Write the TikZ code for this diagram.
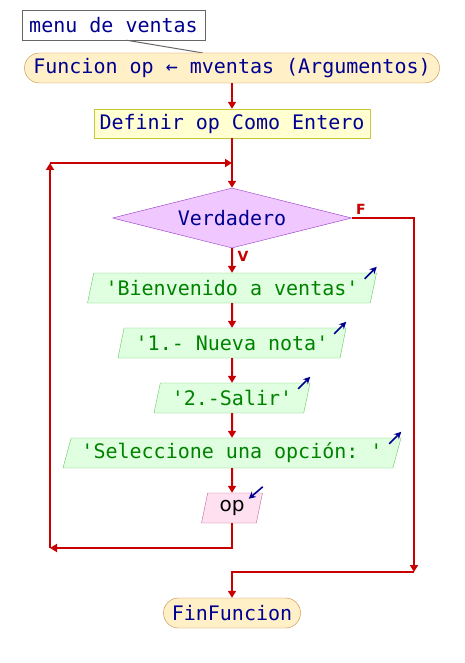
\documentclass[tikz,border=0pt]{standalone}
\usepackage{fontspec}
\setmonofont{DejaVu Sans Mono}
\setsansfont{DejaVu Sans}
\usepackage{tikz}
\usetikzlibrary{shapes.geometric,arrows.meta}
\definecolor{flowred}{HTML}{C80000}
\definecolor{txtblue}{HTML}{000090}
\definecolor{txtgreen}{HTML}{008200}
\definecolor{termfill}{HTML}{FFF0C8}
\definecolor{termline}{HTML}{C8883C}
\definecolor{deffill}{HTML}{FFFFD2}
\definecolor{defline}{HTML}{C8C83C}
\definecolor{condfill}{HTML}{F0C8FF}
\definecolor{condline}{HTML}{9632C8}
\definecolor{outfill}{HTML}{E0FFE0}
\definecolor{outline}{HTML}{64C864}
\definecolor{infill}{HTML}{FFE0F0}
\definecolor{inline}{HTML}{C06496}

\begin{document}
\begin{tikzpicture}[x=1pt,y=-1pt,
    font=\ttfamily\fontsize{20}{24}\selectfont,
    flow/.style={draw=flowred,line width=2pt,-{Triangle[width=8pt,length=7pt]}},
    term/.style={rectangle,rounded corners=15pt,draw=termline,fill=termfill,text=txtblue,minimum height=30pt,inner sep=0pt},
    defbox/.style={rectangle,draw=defline,fill=deffill,text=txtblue,minimum height=29pt,inner sep=0pt},
    cond/.style={diamond,draw=condline,fill=condfill,text=txtblue,aspect=4,inner sep=0pt,minimum width=239pt,minimum height=60pt},
    outbox/.style={trapezium,trapezium left angle=68,trapezium right angle=112,trapezium stretches body,draw=outline,fill=outfill,text=txtgreen,minimum height=30pt,inner xsep=2pt,inner ysep=0pt},
    inbox/.style={trapezium,trapezium left angle=68,trapezium right angle=112,trapezium stretches body,draw=inline,fill=infill,text=black,font=\sffamily\fontsize{20}{24}\selectfont,minimum height=30pt,inner xsep=2pt,inner ysep=0pt},
    ioarr/.style={draw=txtblue,line width=1.6pt,-{Stealth[length=7pt,width=7pt]}},
    branch/.style={text=flowred,font=\sffamily\bfseries\fontsize{14}{16}\selectfont}]
        \useasboundingbox (0,0) rectangle (464,663);

        % comment
        \node[draw=black!60,fill=white,text=txtblue,minimum width=183pt,minimum height=30pt,inner sep=0pt] (cmt) at (113.5,25) {menu de ventas};
        \coordinate (cmtend) at (203,53);
        \draw[black!60,line width=1pt] ([xshift=13pt]cmt.south) -- (cmtend);

        % header and definition
        \node[term,minimum width=415pt] (fnc) at (232,68) {Funcion op ← mventas (Argumentos)};
        \node[defbox,minimum width=276pt] (defn) at (232,123.5) {Definir op Como Entero};

        % loop condition
        \node[cond] (cond) at (232,218) {Verdadero};
        \node[branch] (vlab) at (243,256) {V};
        \node[branch] (flab) at (361,209) {F};

        % loop body
        \node[outbox,minimum width=289pt] (msg1) at (232,288) {'Bienvenido a ventas'};
        \node[outbox,minimum width=228pt] (msg2) at (232,343) {'1.- Nueva nota'};
        \node[outbox,minimum width=156pt] (msg3) at (232,398) {'2.-Salir'};
        \node[outbox,minimum width=338pt] (msg4) at (232,453) {'Seleccione una opción: '};
        \node[inbox,minimum width=61pt] (leer) at (232,508) {op};

        % end
        \node[term,minimum width=137pt] (fin) at (232,613) {FinFuncion};

        % loop and exit corners
        \coordinate (lpin) at (232,163);
        \coordinate (lptop) at (50,163);
        \coordinate (lpbot) at (50,548);
        \coordinate (fdown) at (414,572);

        \draw[flow] (fnc) -- (defn);
        \draw[flow] (defn.south) -- (cond.north);
        \draw[flow] (cond.south) -- (msg1.north);
        \draw[flow] (msg1.south) -- (msg2.north);
        \draw[flow] (msg2.south) -- (msg3.north);
        \draw[flow] (msg3.south) -- (msg4.north);
        \draw[flow] (msg4.south) -- (leer.north);
        \draw[flow] (leer.south) |- (lpbot);
        \draw[flow] (lpbot) -- (lptop);
        \draw[flow] (lptop) -- (lpin);
        \draw[flow] (cond.east) -| (fdown);
        \draw[flow] (fdown) -| (fin.north);

        % output and input marks
        \foreach \m in {msg1,msg2,msg3,msg4}
            \draw[ioarr] ([shift={(-12,6)}]\m.top right corner) -- ([shift={(0,-6)}]\m.top right corner);
        \draw[ioarr] ([shift={(0,-6)}]leer.top right corner) -- ([shift={(-14,6)}]leer.top right corner);
    \end{tikzpicture}
\end{document}
